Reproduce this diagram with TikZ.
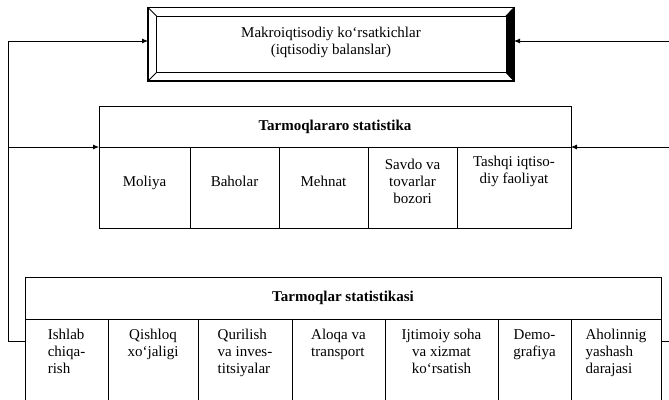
\documentclass[tikz,border=0pt]{standalone}
\usepackage{fontspec}
\setmainfont{Liberation Serif}
\usetikzlibrary{arrows.meta,calc}
\begin{document}
\begin{tikzpicture}[x=1pt,y=-1pt,
  cell/.style={draw, line width=0.8pt, inner sep=0pt, outer sep=0pt, anchor=north west},
  txt/.style={font=\fontsize{15}{17}\selectfont, align=center, inner sep=0pt},
  ltxt/.style={font=\fontsize{15}{17}\selectfont, align=left, inner sep=0pt},
  hdr/.style={font=\fontsize{15}{17}\selectfont\bfseries, align=center, inner sep=0pt},
  ln/.style={line width=0.8pt},
  arr/.style={line width=0.8pt, -{Latex[length=6pt,width=5pt]}}]
\useasboundingbox (0,0) rectangle (669,399);
\clip (0,0) rectangle (669,399);
% top bevelled box
\node[cell, line width=1.1pt, minimum width=366pt, minimum height=73.5pt] (macro) at (148,7.5) {};
\coordinate (inw) at (156.5,16);
\coordinate (ine) at (506,16);
\coordinate (ise) at (506,72.5);
\coordinate (isw) at (156.5,72.5);
\fill (macro.north east) -- (macro.south east) -- (ise) -- (ine) -- cycle;
\draw[ln] (inw) -- (ine) -- (ise) -- (isw) -- cycle;
\draw[ln] (macro.north west) -- (inw);
\draw[ln] (macro.south west) -- (isw);
\draw[ln] (macro.north east) -- (ine);
\draw[ln] (macro.south east) -- (ise);
\node[txt, anchor=north] (macrot) at (331,27) {Makroiqtisodiy ko‘rsatkichlar\\(iqtisodiy balanslar)};
% middle block
\node[cell, minimum width=472pt, minimum height=41pt] (mh) at (99,106) {};
\node[cell, minimum width=91pt, minimum height=81pt] (m1) at (99,147) {};
\node[cell, minimum width=89pt, minimum height=81pt] (m2) at (190,147) {};
\node[cell, minimum width=89pt, minimum height=81pt] (m3) at (279,147) {};
\node[cell, minimum width=89pt, minimum height=81pt] (m4) at (368,147) {};
\node[cell, minimum width=114pt, minimum height=81pt] (m5) at (457,147) {};
\node[hdr, anchor=base] (mht) at (335,130) {Tarmoqlararo statistika};
\node[txt, anchor=base] (m1t) at (144.5,186) {Moliya};
\node[txt, anchor=base] (m2t) at (234.5,186) {Baholar};
\node[txt, anchor=base] (m3t) at (323.5,186) {Mehnat};
\node[txt, anchor=north] (m4t) at (412.5,158.5) {Savdo va\\tovarlar\\bozori};
\node[txt, anchor=north] (m5t) at (514,156) {Tashqi iqtiso-\\diy faoliyat};
% bottom block
\node[cell, minimum width=636pt, minimum height=42pt] (bh) at (25,277) {};
\node[cell, minimum width=83pt, minimum height=84pt] (b1) at (25,319) {};
\node[cell, minimum width=90pt, minimum height=84pt] (b2) at (108,319) {};
\node[cell, minimum width=94pt, minimum height=84pt] (b3) at (198,319) {};
\node[cell, minimum width=93pt, minimum height=84pt] (b4) at (292,319) {};
\node[cell, minimum width=113pt, minimum height=84pt] (b5) at (385,319) {};
\node[cell, minimum width=73pt, minimum height=84pt] (b6) at (498,319) {};
\node[cell, minimum width=90pt, minimum height=84pt] (b7) at (571,319) {};
\node[hdr, anchor=base] (bht) at (343,301) {Tarmoqlar statistikasi};
\node[ltxt, anchor=north] (b1t) at (66.5,329) {Ishlab\\chiqa-\\rish};
\node[txt, anchor=north] (b2t) at (153,329) {Qishloq\\xo‘jaligi};
\node[ltxt, anchor=north] (b3t) at (245,329) {Qurilish\\va inves-\\titsiyalar};
\node[ltxt, anchor=north] (b4t) at (338.5,329) {Aloqa va\\transport};
\node[txt, anchor=north] (b5t) at (441.5,329) {Ijtimoiy soha\\va xizmat\\ko‘rsatish};
\node[txt, anchor=north] (b6t) at (534.5,329) {Demo-\\grafiya};
\node[ltxt, anchor=north] (b7t) at (616,329) {Aholinnig\\yashash\\darajasi};
% connectors
\coordinate (lt) at (8,41);
\coordinate (lm) at (8,147);
\coordinate (lb) at (8,341);
\coordinate (rt) at (669,41);
\coordinate (rm) at (669,147);
\coordinate (rb) at (669,341);
\draw[arr] (lb -| b1.west) -- (lb) -- (lt) -- (lt -| macro.west);
\draw[arr] (lm) -- (mh.south west);
\draw[arr] (rt) -- (rt -| macro.east);
\draw[arr] (rm) -- (mh.south east);
\draw[ln] (rb -| b7.east) -- (rb);
\end{tikzpicture}
\end{document}
